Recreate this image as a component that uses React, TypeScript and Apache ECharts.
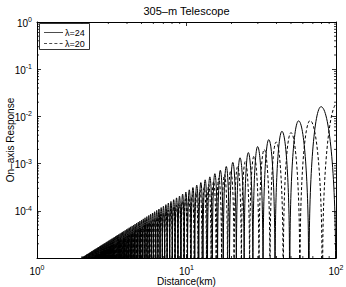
import React, { useEffect, useRef } from 'react';
import * as echarts from 'echarts';

const TITLE = '305–m Telescope';
const X_NAME = 'Distance(km)';
const Y_NAME = 'On–axis Response';
const SERIES_NAMES = ['λ=24', 'λ=20'];
const X_MIN = 1;
const X_MAX = 100;
const Y_MIN = 1e-5;
const Y_MAX = 1;

const X_MINOR_TICKS = [2, 3, 4, 5, 6, 7, 8, 9, 20, 30, 40, 50, 60, 70, 80, 90];
const Y_MINOR_TICKS = [
  2e-5, 3e-5, 4e-5, 5e-5, 6e-5, 7e-5, 8e-5, 9e-5,
  2e-4, 3e-4, 4e-4, 5e-4, 6e-4, 7e-4, 8e-4, 9e-4,
  2e-3, 3e-3, 4e-3, 5e-3, 6e-3, 7e-3, 8e-3, 9e-3,
  2e-2, 3e-2, 4e-2, 5e-2, 6e-2, 7e-2, 8e-2, 9e-2,
  0.2, 0.3, 0.4, 0.5, 0.6, 0.7, 0.8, 0.9,
];

// λ=24 (solid): lobe peaks (km), peak response, and response nulls (km), far to near
const solidPeakKm = [
  79.4, 56.2, 43.5, 35.5, 29.9, 25.9, 22.8, 20.4, 18.45, 16.84,
  15.48, 14.33, 13.33, 12.47, 11.71, 11.04, 10.44, 9.9, 9.42, 8.98,
  8.58, 8.21, 7.87, 7.56, 7.28, 7.01, 6.77, 6.54, 6.32, 6.12,
  5.93, 5.75, 5.59, 5.43, 5.28, 5.14, 5.01, 4.88, 4.76, 4.64,
  4.53, 4.43, 4.33, 4.23, 4.14, 4.06, 3.97, 3.89, 3.81, 3.74,
  3.67, 3.6, 3.53, 3.47, 3.41, 3.35, 3.29, 3.24, 3.18, 3.13,
  3.08, 3.03, 2.99, 2.94, 2.9, 2.85, 2.81, 2.77, 2.73, 2.69,
  2.66, 2.62, 2.58, 2.55, 2.52, 2.48, 2.45, 2.42, 2.39, 2.36,
  2.33, 2.31, 2.28, 2.25, 2.23, 2.2, 2.17, 2.15, 2.13, 2.1,
  2.08, 2.06, 2.04, 2.02, 1.99,
];
const solidPeakResp = [
  1.606e-2, 8.05e-3, 4.82e-3, 3.21e-3, 2.29e-3, 1.71e-3, 1.33e-3, 1.06e-3, 8.68e-4, 7.23e-4,
  6.11e-4, 5.23e-4, 4.53e-4, 3.96e-4, 3.5e-4, 3.11e-4, 2.78e-4, 2.5e-4, 2.26e-4, 2.05e-4,
  1.88e-4, 1.72e-4, 1.58e-4, 1.46e-4, 1.35e-4, 1.25e-4, 1.17e-4, 1.09e-4, 1.02e-4, 9.55e-5,
  8.97e-5, 8.44e-5, 7.96e-5, 7.52e-5, 7.11e-5, 6.73e-5, 6.39e-5, 6.07e-5, 5.77e-5, 5.5e-5,
  5.24e-5, 5.0e-5, 4.78e-5, 4.57e-5, 4.38e-5, 4.19e-5, 4.02e-5, 3.86e-5, 3.71e-5, 3.57e-5,
  3.43e-5, 3.3e-5, 3.18e-5, 3.07e-5, 2.96e-5, 2.86e-5, 2.76e-5, 2.67e-5, 2.58e-5, 2.5e-5,
  2.42e-5, 2.34e-5, 2.27e-5, 2.2e-5, 2.14e-5, 2.07e-5, 2.01e-5, 1.96e-5, 1.9e-5, 1.85e-5,
  1.8e-5, 1.75e-5, 1.7e-5, 1.66e-5, 1.62e-5, 1.57e-5, 1.53e-5, 1.5e-5, 1.46e-5, 1.42e-5,
  1.39e-5, 1.36e-5, 1.32e-5, 1.29e-5, 1.26e-5, 1.23e-5, 1.21e-5, 1.18e-5, 1.15e-5, 1.13e-5,
  1.1e-5, 1.08e-5, 1.06e-5, 1.04e-5, 1.01e-5,
];
const solidNullKm = [
  100, 65.8, 49.0, 39.1, 32.5, 27.8, 24.3, 21.55, 19.38, 17.61,
  16.13, 14.88, 13.81, 12.89, 12.08, 11.36, 10.73, 10.16, 9.65, 9.19,
  8.77, 8.39, 8.04, 7.72, 7.42, 7.14, 6.89, 6.65, 6.43, 6.22,
  6.02, 5.84, 5.67, 5.51, 5.35, 5.21, 5.07, 4.94, 4.82, 4.7,
  4.59, 4.48, 4.38, 4.28, 4.19, 4.1, 4.01, 3.93, 3.85, 3.78,
  3.7, 3.63, 3.57, 3.5, 3.44, 3.38, 3.32, 3.26, 3.21, 3.16,
  3.11, 3.06, 3.01, 2.96, 2.92, 2.87, 2.83, 2.79, 2.75, 2.71,
  2.67, 2.64, 2.6, 2.57, 2.53, 2.5, 2.47, 2.44, 2.41, 2.38,
  2.35, 2.32, 2.29, 2.26, 2.24, 2.21, 2.19, 2.16, 2.14, 2.12,
  2.09, 2.07, 2.05, 2.03, 2.0, 1.98,
];

// λ=20 (dashed)
const dashedPeakKm = [
  102.0, 67.1, 50.0, 39.8, 33.1, 28.3, 24.75, 21.98, 19.76, 17.95,
  16.45, 15.17, 14.08, 13.14, 12.32, 11.59, 10.94, 10.36, 9.84, 9.37,
  8.94, 8.55, 8.2, 7.87, 7.56, 7.28, 7.02, 6.78, 6.55, 6.34,
  6.14, 5.96, 5.78, 5.61, 5.46, 5.31, 5.17, 5.04, 4.91, 4.79,
  4.68, 4.57, 4.46, 4.36, 4.27, 4.18, 4.09, 4.01, 3.93, 3.85,
  3.78, 3.71, 3.64, 3.57, 3.51, 3.44, 3.39, 3.33, 3.27, 3.22,
  3.17, 3.12, 3.07, 3.02, 2.97, 2.93, 2.89, 2.84, 2.8, 2.76,
  2.73, 2.69, 2.65, 2.62, 2.58, 2.55, 2.52, 2.48, 2.45, 2.42,
  2.39, 2.36,
];
const dashedPeakResp = [
  1.89e-2, 8.15e-3, 4.53e-3, 2.87e-3, 1.99e-3, 1.45e-3, 1.11e-3, 8.74e-4, 7.07e-4, 5.83e-4,
  4.9e-4, 4.17e-4, 3.59e-4, 3.13e-4, 2.75e-4, 2.43e-4, 2.17e-4, 1.94e-4, 1.75e-4, 1.59e-4,
  1.45e-4, 1.32e-4, 1.22e-4, 1.12e-4, 1.04e-4, 9.6e-5, 8.93e-5, 8.32e-5, 7.77e-5, 7.28e-5,
  6.83e-5, 6.42e-5, 6.05e-5, 5.71e-5, 5.39e-5, 5.1e-5, 4.84e-5, 4.59e-5, 4.37e-5, 4.16e-5,
  3.96e-5, 3.78e-5, 3.61e-5, 3.45e-5, 3.3e-5, 3.16e-5, 3.03e-5, 2.91e-5, 2.79e-5, 2.68e-5,
  2.58e-5, 2.48e-5, 2.39e-5, 2.31e-5, 2.23e-5, 2.15e-5, 2.07e-5, 2.0e-5, 1.94e-5, 1.88e-5,
  1.82e-5, 1.76e-5, 1.7e-5, 1.65e-5, 1.6e-5, 1.55e-5, 1.51e-5, 1.47e-5, 1.42e-5, 1.38e-5,
  1.35e-5, 1.31e-5, 1.27e-5, 1.24e-5, 1.21e-5, 1.18e-5, 1.15e-5, 1.12e-5, 1.09e-5, 1.06e-5,
  1.04e-5, 1.01e-5,
];
const dashedNullKm = [
  137.9, 80.97, 57.31, 44.35, 36.17, 30.53, 26.42, 23.28, 20.81, 18.81,
  17.17, 15.79, 14.61, 13.6, 12.71, 11.94, 11.25, 10.64, 10.1, 9.6,
  9.15, 8.75, 8.37, 8.03, 7.71, 7.42, 7.15, 6.9, 6.66, 6.45,
  6.24, 6.05, 5.87, 5.7, 5.54, 5.38, 5.24, 5.1, 4.97, 4.85,
  4.73, 4.62, 4.52, 4.41, 4.32, 4.22, 4.13, 4.05, 3.97, 3.89,
  3.81, 3.74, 3.67, 3.6, 3.54, 3.48, 3.41, 3.36, 3.3, 3.25,
  3.19, 3.14, 3.09, 3.04, 3.0, 2.95, 2.91, 2.87, 2.82, 2.78,
  2.75, 2.71, 2.67, 2.63, 2.6, 2.57, 2.53, 2.5, 2.47, 2.44,
  2.41, 2.38, 2.35,
];

const FONT = '"Liberation Sans", Arial, Helvetica, sans-serif';
const INK = '#000';
const LINE_W = 1.0;
const DASH = [3, 2.2];
const FOOT_GAP = 0.03;
const ARCH_K = 0.55;

function lobeRows(nulls: number[], peakKm: number[], peakResp: number[]) {
  return peakKm.map((z, i) => [nulls[i + 1], z, peakResp[i], nulls[i]]);
}

function makeLobeRenderer(dash: number[] | null) {
  return (params: any, api: any) => {
    const cs = params.coordSys;
    const base = cs.y + cs.height;
    const L = api.coord([api.value(0), Y_MIN]);
    const P = api.coord([api.value(1), api.value(2)]);
    const R = api.coord([api.value(3), Y_MIN]);
    const h = base - P[1];
    if (!(h > 0)) return null;
    const lx = L[0] + (P[0] - L[0]) * FOOT_GAP;
    const rx = R[0] - (R[0] - P[0]) * FOOT_GAP;
    const d =
      `M${lx},${base} C${lx},${base - ARCH_K * h} ${P[0] - ARCH_K * (P[0] - lx)},${P[1]} ${P[0]},${P[1]} ` +
      `C${P[0] + ARCH_K * (rx - P[0])},${P[1]} ${rx},${base - ARCH_K * h} ${rx},${base}`;
    const style: any = { fill: 'none', stroke: INK, lineWidth: LINE_W };
    if (dash) style.lineDash = dash;
    return { type: 'path', shape: { pathData: d }, style };
  };
}

const richLabel = {
  b: { fontSize: 10, lineHeight: 12, verticalAlign: 'bottom', fontFamily: FONT, color: INK },
  e: { fontSize: 7, lineHeight: 6, verticalAlign: 'top', fontFamily: FONT, color: INK },
};

const expLabel = (hideMin: number | null) => (v: number) => {
  const e = Math.round(Math.log10(v));
  if (hideMin !== null && e === hideMin) return '';
  return `{b|10}{e|${e}}`;
};

function buildOption() {
  const tickStyle = { stroke: INK, lineWidth: 0.8 };
  const axisLine = { show: true, lineStyle: { color: INK, width: 1 } };
  const majorTick = { show: true, inside: true, length: 4, lineStyle: { color: INK, width: 0.8 } };
  return {
    animation: false,
    backgroundColor: '#fff',
    textStyle: { fontFamily: FONT },
    grid: { left: 37, right: 10, top: 22, bottom: 29, containLabel: false, outerBoundsMode: 'none' },
    xAxis: [
      {
        type: 'log', logBase: 10, min: X_MIN, max: X_MAX, position: 'bottom',
        name: X_NAME, nameLocation: 'middle', nameGap: 18, nameMoveOverlap: false,
        nameTextStyle: { fontSize: 10, lineHeight: 10, color: INK, fontFamily: FONT },
        axisLine, axisTick: majorTick,
        axisLabel: { formatter: expLabel(null), rich: richLabel, margin: 6, color: INK },
        splitLine: { show: false },
      },
      {
        type: 'log', logBase: 10, min: X_MIN, max: X_MAX, position: 'top',
        axisLine, axisTick: majorTick,
        axisLabel: { show: false },
        splitLine: { show: false },
      },
    ],
    yAxis: [
      {
        type: 'log', logBase: 10, min: Y_MIN, max: Y_MAX, position: 'left',
        name: Y_NAME, nameLocation: 'middle', nameGap: 22, nameMoveOverlap: false,
        nameTextStyle: { fontSize: 10, color: INK, fontFamily: FONT },
        axisLine, axisTick: majorTick,
        axisLabel: { formatter: expLabel(-5), rich: richLabel, margin: 5, color: INK },
        splitLine: { show: false },
      },
      {
        type: 'log', logBase: 10, min: Y_MIN, max: Y_MAX, position: 'right',
        axisLine, axisTick: majorTick,
        axisLabel: { show: false },
        splitLine: { show: false },
      },
    ],
    series: [
      {
        name: SERIES_NAMES[0], type: 'custom', xAxisIndex: 0, yAxisIndex: 0, clip: true,
        renderItem: makeLobeRenderer(null),
        data: lobeRows(solidNullKm, solidPeakKm, solidPeakResp),
      },
      {
        name: SERIES_NAMES[1], type: 'custom', xAxisIndex: 0, yAxisIndex: 0, clip: true,
        renderItem: makeLobeRenderer(DASH),
        data: lobeRows(dashedNullKm, dashedPeakKm, dashedPeakResp),
      },
      {
        type: 'custom', xAxisIndex: 0, yAxisIndex: 0, silent: true,
        renderItem: (params: any, api: any) => {
          const cs = params.coordSys;
          const x = api.coord([api.value(0), Y_MIN])[0];
          const b = cs.y + cs.height;
          return {
            type: 'group',
            children: [
              { type: 'line', shape: { x1: x, y1: b, x2: x, y2: b - 2 }, style: tickStyle },
              { type: 'line', shape: { x1: x, y1: cs.y, x2: x, y2: cs.y + 2 }, style: tickStyle },
            ],
          };
        },
        data: X_MINOR_TICKS.map((v) => [v]),
      },
      {
        type: 'custom', xAxisIndex: 0, yAxisIndex: 0, silent: true,
        renderItem: (params: any, api: any) => {
          const cs = params.coordSys;
          const y = api.coord([X_MIN, api.value(0)])[1];
          const r = cs.x + cs.width;
          return {
            type: 'group',
            children: [
              { type: 'line', shape: { x1: cs.x, y1: y, x2: cs.x + 2, y2: y }, style: tickStyle },
              { type: 'line', shape: { x1: r, y1: y, x2: r - 2, y2: y }, style: tickStyle },
            ],
          };
        },
        encode: { x: -1, y: 0 },
        data: Y_MINOR_TICKS.map((v) => [v]),
      },
    ],
    graphic: [
      {
        type: 'text', x: 186.5, y: 11, z: 100,
        style: {
          text: TITLE, font: `11px ${FONT}`, fill: INK,
          textAlign: 'center', textVerticalAlign: 'middle', align: 'center', verticalAlign: 'middle',
        },
      },
      {
        type: 'rect', z: 100,
        shape: { x: 39.5, y: 23.5, width: 50, height: 26 },
        style: { fill: '#fff', stroke: INK, lineWidth: 0.8 },
      },
      { type: 'line', z: 101, shape: { x1: 44, y1: 32.5, x2: 63, y2: 32.5 }, style: { stroke: INK, lineWidth: 0.7 } },
      { type: 'line', z: 101, shape: { x1: 44, y1: 43.5, x2: 63, y2: 43.5 }, style: { stroke: INK, lineWidth: 0.7, lineDash: DASH } },
      {
        type: 'text', x: 65, y: 32.5, z: 101,
        style: { text: SERIES_NAMES[0], font: `9px ${FONT}`, fill: INK, textVerticalAlign: 'middle', verticalAlign: 'middle' },
      },
      {
        type: 'text', x: 65, y: 43.5, z: 101,
        style: { text: SERIES_NAMES[1], font: `9px ${FONT}`, fill: INK, textVerticalAlign: 'middle', verticalAlign: 'middle' },
      },
    ],
  };
}

export default function App() {
  const ref = useRef<HTMLDivElement>(null);
  useEffect(() => {
    if (!ref.current) return;
    const chart = echarts.init(ref.current, undefined, { renderer: 'svg' });
    chart.setOption(buildOption() as any);
    return () => chart.dispose();
  }, []);
  return (
    <div
      ref={ref}
      style={{ position: 'fixed', left: 0, top: 0, width: 346, height: 287, background: '#fff' }}
    />
  );
}
